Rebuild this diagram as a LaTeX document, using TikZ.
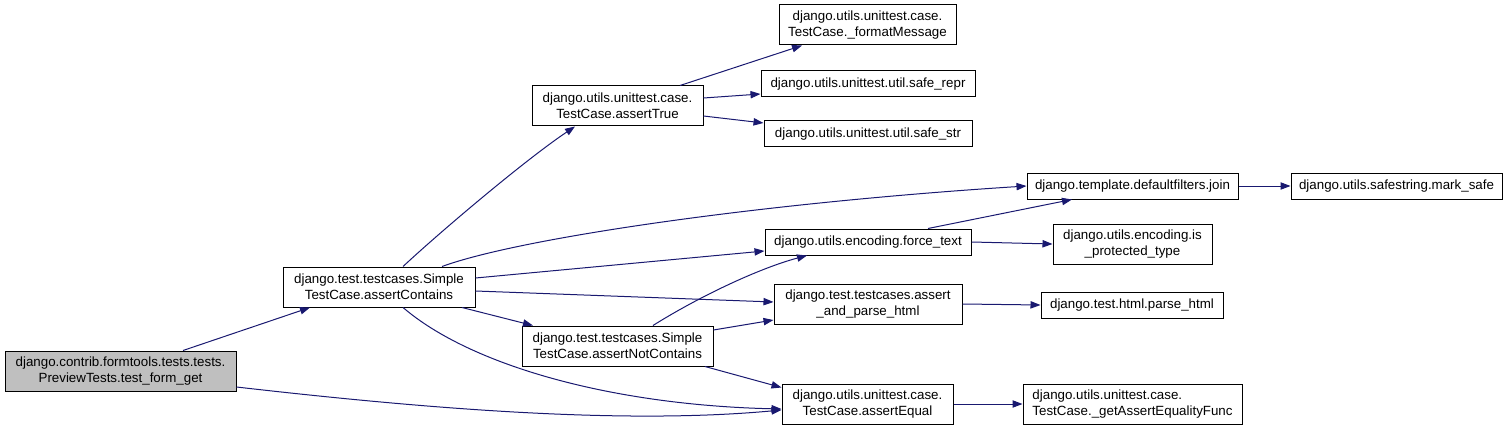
\documentclass[tikz,border=0pt]{standalone}
\usepackage{fontspec}
\setmainfont{Liberation Sans}
\usetikzlibrary{arrows.meta}
\definecolor{edgecol}{HTML}{191970}
\definecolor{graybox}{HTML}{BFBFBF}
\begin{document}
\begin{tikzpicture}[x=0.75pt,y=-0.75pt,
  box/.style={draw=black,line width=0.75pt,fill=white,inner sep=0pt,align=center,font=\fontsize{10}{12}\selectfont},
  conn/.style={draw=edgecol,line width=0.75pt,-{Triangle[length=7.5pt,width=5.5pt]}}]
\useasboundingbox (0,0) rectangle (1508,431);
% nodes
\node[box,fill=graybox,minimum width=173.25pt,minimum height=30pt] (A) at (120.5,371) {django.contrib.formtools.tests.tests.\\PreviewTests.test\_form\_get};
\node[box,minimum width=144pt,minimum height=30pt] (B) at (379,287) {django.test.testcases.Simple\\TestCase.assertContains};
\node[box,minimum width=128.25pt,minimum height=30pt] (C) at (617.5,106) {django.utils.unittest.case.\\TestCase.assertTrue};
\node[box,minimum width=132.75pt,minimum height=30pt] (D) at (867.5,25) {django.utils.unittest.case.\\TestCase.\_formatMessage};
\node[box,minimum width=160.5pt,minimum height=19.5pt] (E) at (868,84) {django.utils.unittest.util.safe\_repr};
\node[box,minimum width=156pt,minimum height=19.5pt] (F) at (868,134) {django.utils.unittest.util.safe\_str};
\node[box,minimum width=158.25pt,minimum height=19.5pt] (G) at (1132.5,186) {django.template.defaultfilters.join};
\node[box,minimum width=158.25pt,minimum height=19.5pt] (H) at (1396.5,186) {django.utils.safestring.mark\_safe};
\node[box,minimum width=154.5pt,minimum height=19.5pt] (I) at (868,242) {django.utils.encoding.force\_text};
\node[box,minimum width=119.25pt,minimum height=30pt] (J) at (1132.5,244) {django.utils.encoding.is\\\_protected\_type};
\node[box,minimum width=141pt,minimum height=30pt] (K) at (868,304) {django.test.testcases.assert\\\_and\_parse\_html};
\node[box,minimum width=136.5pt,minimum height=19.5pt] (L) at (1132,305) {django.test.html.parse\_html};
\node[box,minimum width=143.25pt,minimum height=30pt] (M) at (617.5,346) {django.test.testcases.Simple\\TestCase.assertNotContains};
\node[box,minimum width=128.25pt,minimum height=30pt] (N) at (867.5,404) {django.utils.unittest.case.\\TestCase.assertEqual};
\node[box,align=left,minimum width=164.25pt,minimum height=30pt] (O) at (1132.5,404) {django.utils.unittest.case.\\TestCase.\_getAssertEqualityFunc};
% connectors
\draw[conn] ([xshift=46.875pt]A.north) -- ([xshift=-51.75pt]B.south);
\draw[conn] ([yshift=-12pt]A.east) .. controls (420,408) and (620,425) .. ([yshift=-4.5pt]N.west);
\draw[conn] ([xshift=18pt]B.north) .. controls (440,232) and (525,160) .. ([xshift=-31.875pt]C.south);
\draw[conn] ([xshift=47.25pt]B.north) .. controls (520,238) and (760,203) .. (G.west);
\draw[conn] ([yshift=6.75pt]B.east) -- ([yshift=-6.75pt]I.west);
\draw[conn] ([yshift=-3pt]B.east) -- ([yshift=1.5pt]K.west);
\draw[conn] ([xshift=62.25pt]B.south) -- ([xshift=-63.4pt]M.north);
\draw[conn] ([xshift=18pt]B.south) .. controls (470,365) and (610,405) .. ([yshift=-3.75pt]N.west);
\draw[conn] ([xshift=46.875pt]C.north) -- ([xshift=-49.1pt]D.south);
\draw[conn] ([yshift=6pt]C.east) -- ([yshift=-7.5pt]E.west);
\draw[conn] ([yshift=-7.5pt]C.east) -- ([yshift=8.25pt]F.west);
\draw[conn] (G.east) -- (H.west);
\draw[conn] ([xshift=45pt]I.north) -- ([xshift=-45.4pt]G.south);
\draw[conn] (I.east) -- (J.west);
\draw[conn] (K.east) -- (L.west);
\draw[conn] ([xshift=26.6pt]M.north) .. controls (700,296) and (760,268) .. ([xshift=-45.75pt]I.south);
\draw[conn] ([yshift=12pt]M.east) -- ([yshift=-12pt]K.west);
\draw[conn] ([xshift=65.6pt]M.south) -- ([yshift=-3pt]N.north west);
\draw[conn] (N.east) -- (O.west);
\end{tikzpicture}
\end{document}
